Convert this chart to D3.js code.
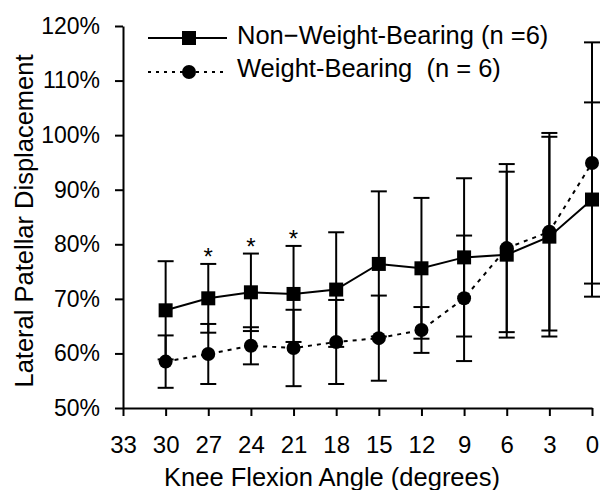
<!DOCTYPE html>
<html>
<head>
<meta charset="utf-8">
<script src="https://cdn.jsdelivr.net/npm/d3@7"></script>
<style>
  body { margin: 0; background: #fff; }
  text { font-family: "Liberation Sans", Arial, sans-serif; fill: #000; }
</style>
</head>
<body>
<div id="maincontent"></div>
<script>
// data
var angles = [30, 27, 24, 21, 18, 15, 12, 9, 6, 3, 0];
var nwbMean = [0.679, 0.701, 0.712, 0.709, 0.717, 0.764, 0.756, 0.776, 0.781, 0.814, 0.882];
var nwbSD   = [0.090, 0.063, 0.071, 0.088, 0.105, 0.133, 0.129, 0.145, 0.152, 0.183, 0.178];
var wbMean  = [0.585, 0.599, 0.614, 0.610, 0.621, 0.628, 0.643, 0.701, 0.793, 0.823, 0.949];
var wbSD    = [0.048, 0.055, 0.034, 0.070, 0.077, 0.078, 0.042, 0.115, 0.154, 0.181, 0.221];
var sigAngles = [27, 24, 21];
var xTicks = [33, 30, 27, 24, 21, 18, 15, 12, 9, 6, 3, 0];
var yTicks = [0.5, 0.6, 0.7, 0.8, 0.9, 1.0, 1.1, 1.2];
var nwbLabel = "Non\u2212Weight-Bearing (n =6)";
var wbLabel = "Weight-Bearing\u00a0\u00a0(n = 6)";

var w = 601;
var h = 490;
// plot box (pixels)
var pLeft = 123, pRight = 592, pTop = 26, pBottom = 408;

var svg = d3.select("#maincontent")
  .append("svg")
  .attr("width", w)
  .attr("height", h);

var x = d3.scaleLinear().domain([33, 0]).range([pLeft, pRight]);
var y = d3.scaleLinear().domain([0.5, 1.2]).range([pBottom, pTop]);

// axes
var yAxis = svg.append("g")
  .attr("transform", "translate(" + pLeft + ",0)")
  .call(d3.axisLeft(y).tickValues(yTicks).tickFormat(d3.format(".0%"))
    .tickSize(8).tickSizeOuter(0).tickPadding(15));
yAxis.selectAll("text").attr("font-size", "23px").attr("font-family", null);

var xAxis = svg.append("g")
  .attr("transform", "translate(0," + pBottom + ")")
  .call(d3.axisBottom(x).tickValues(xTicks).tickFormat(d3.format("d"))
    .tickSize(8).tickSizeOuter(0).tickPadding(20));
xAxis.selectAll("text").attr("font-size", "24px").attr("font-family", null);

svg.selectAll(".domain, .tick line")
  .attr("stroke", "#000")
  .attr("stroke-width", 2);

// titles
svg.append("text")
  .attr("x", 332)
  .attr("y", 486)
  .attr("text-anchor", "middle")
  .attr("font-size", "25.5px")
  .text("Knee Flexion Angle (degrees)");

svg.append("text")
  .attr("transform", "translate(33,221) rotate(-90)")
  .attr("text-anchor", "middle")
  .attr("font-size", "25.5px")
  .text("Lateral Patellar Displacement");

function series(means, sds, dash, marker) {
  var pts = angles.map(function(a, i) { return [a, means[i], sds[i]]; });
  var g = svg.append("g");

  // error bars
  g.selectAll("line.bar")
    .data(pts)
    .enter()
    .append("line")
    .attr("x1", function(d) { return x(d[0]); })
    .attr("x2", function(d) { return x(d[0]); })
    .attr("y1", function(d) { return y(d[1] - d[2]); })
    .attr("y2", function(d) { return y(d[1] + d[2]); })
    .attr("stroke", "#000")
    .attr("stroke-width", 2);

  [-1, 1].forEach(function(s) {
    g.selectAll(null)
      .data(pts)
      .enter()
      .append("line")
      .attr("x1", function(d) { return x(d[0]) - 8; })
      .attr("x2", function(d) { return x(d[0]) + 8; })
      .attr("y1", function(d) { return y(d[1] + s * d[2]); })
      .attr("y2", function(d) { return y(d[1] + s * d[2]); })
      .attr("stroke", "#000")
      .attr("stroke-width", 2);
  });

  var line = d3.line()
    .x(function(d) { return x(d[0]); })
    .y(function(d) { return y(d[1]); });

  g.append("path")
    .datum(pts)
    .attr("d", line)
    .attr("fill", "none")
    .attr("stroke", "#000")
    .attr("stroke-width", 2)
    .attr("stroke-dasharray", dash);

  if (marker == "square") {
    g.selectAll("rect")
      .data(pts)
      .enter()
      .append("rect")
      .attr("x", function(d) { return x(d[0]) - 7; })
      .attr("y", function(d) { return y(d[1]) - 7; })
      .attr("width", 14)
      .attr("height", 14)
      .attr("fill", "#000");
  } else {
    g.selectAll("circle")
      .data(pts)
      .enter()
      .append("circle")
      .attr("cx", function(d) { return x(d[0]); })
      .attr("cy", function(d) { return y(d[1]); })
      .attr("r", 7)
      .attr("fill", "#000");
  }
}

series(nwbMean, nwbSD, null, "square");
series(wbMean, wbSD, "4,5", "circle");

// significance marks above the upper bars
svg.selectAll("text.sig")
  .data(sigAngles)
  .enter()
  .append("text")
  .attr("class", "sig")
  .attr("x", function(d) { return x(d); })
  .attr("y", function(d) {
    var i = angles.indexOf(d);
    return y(nwbMean[i] + nwbSD[i]) + 1;
  })
  .attr("text-anchor", "middle")
  .attr("font-size", "24px")
  .text("*");

// legend
var lg = svg.append("g");
lg.append("line")
  .attr("x1", 148).attr("x2", 227).attr("y1", 38).attr("y2", 38)
  .attr("stroke", "#000").attr("stroke-width", 2);
lg.append("rect")
  .attr("x", 182).attr("y", 31).attr("width", 14).attr("height", 14)
  .attr("fill", "#000");
lg.append("text")
  .attr("x", 237).attr("y", 44)
  .attr("font-size", "25.5px")
  .text(nwbLabel);

lg.append("line")
  .attr("x1", 148).attr("x2", 227).attr("y1", 72).attr("y2", 72)
  .attr("stroke", "#000").attr("stroke-width", 2)
  .attr("stroke-dasharray", "3,5");
lg.append("circle")
  .attr("cx", 189).attr("cy", 72).attr("r", 7)
  .attr("fill", "#000");
lg.append("text")
  .attr("x", 237).attr("y", 77)
  .attr("font-size", "25.5px")
  .text(wbLabel);
</script>
</body>
</html>
